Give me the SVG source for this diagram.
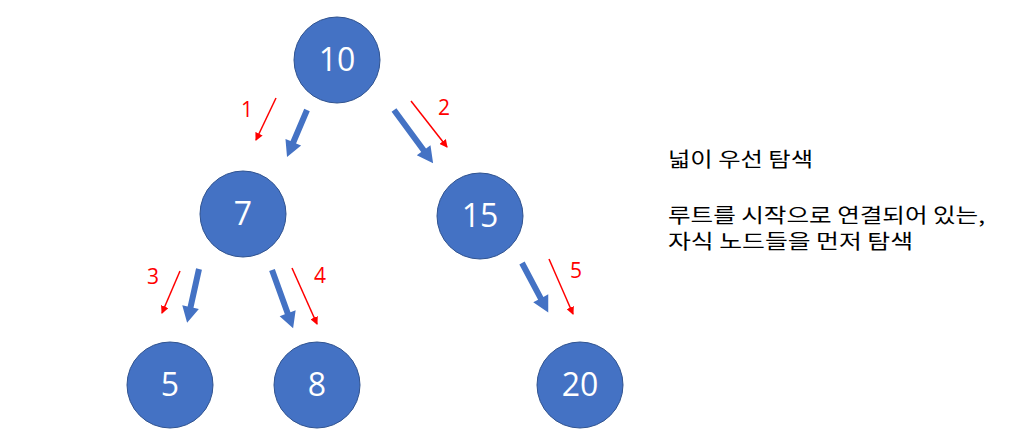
<svg xmlns="http://www.w3.org/2000/svg" width="1025" height="437" viewBox="0 0 1025 437">
<style>
.node circle{fill:#4472C4;stroke:#2F528F;stroke-width:1}
.node text{fill:#fff;font-family:"Segoe UI","Open Sans","Liberation Sans",sans-serif;font-size:32px;text-anchor:middle}
.blk{fill:#4472C4}
.red{stroke:#FF0000;stroke-width:1.5;fill:none;marker-end:url(#rh)}
.lbl{fill:#FF0000;font-family:"Segoe UI","Open Sans","Liberation Sans",sans-serif;font-size:21px;text-anchor:middle}
.desc{fill:#000;font-family:"Noto Sans CJK KR","Noto Sans",sans-serif;font-size:20px}
</style>
<defs>
<marker id="rh" markerWidth="8" markerHeight="8" refX="7" refY="4" orient="auto" markerUnits="userSpaceOnUse">
<path d="M0,0 L8,4 L0,8 Z" fill="#FF0000"/>
</marker>
</defs>
<rect width="1025" height="437" fill="#fff"/>
<g id="connectors">
<path class="blk" transform="translate(307,110) rotate(113.05)" d="M0,-3 L35,-3 L35,-8.5 L51,0 L35,8.5 L35,3 L0,3 Z"/>
<path class="blk" transform="translate(394,110) rotate(53.65)" d="M0,-3 L50,-3 L50,-8.5 L66,0 L50,8.5 L50,3 L0,3 Z"/>
<path class="blk" transform="translate(199,269) rotate(102.5)" d="M0,-3 L39,-3 L39,-8.5 L55,0 L39,8.5 L39,3 L0,3 Z"/>
<path class="blk" transform="translate(272,270) rotate(70.1)" d="M0,-3 L46,-3 L46,-8.5 L62,0 L46,8.5 L46,3 L0,3 Z"/>
<path class="blk" transform="translate(522,263) rotate(62.05)" d="M0,-3 L40,-3 L40,-8.5 L56,0 L40,8.5 L40,3 L0,3 Z"/>
<line class="red" x1="276" y1="98" x2="256" y2="140"/>
<line class="red" x1="411" y1="101" x2="447" y2="147"/>
<line class="red" x1="180" y1="271" x2="162" y2="313"/>
<line class="red" x1="292" y1="268" x2="317" y2="324"/>
<line class="red" x1="549" y1="259" x2="573" y2="314"/>
<text class="lbl" x="247" y="117">1</text>
<text class="lbl" x="444" y="115">2</text>
<text class="lbl" x="153" y="284">3</text>
<text class="lbl" x="320" y="283">4</text>
<text class="lbl" x="576" y="278">5</text>
</g>
<g id="n10" class="node"><circle cx="337" cy="60" r="43"/><text x="337" y="71">10</text></g>
<g id="n7" class="node"><circle cx="243" cy="214" r="43"/><text x="243" y="225">7</text></g>
<g id="n15" class="node"><circle cx="480" cy="216" r="43"/><text x="480" y="227">15</text></g>
<g id="n5" class="node"><circle cx="170" cy="385" r="43"/><text x="170" y="396">5</text></g>
<g id="n8" class="node"><circle cx="317" cy="385" r="43"/><text x="317" y="396">8</text></g>
<g id="n20" class="node"><circle cx="580" cy="385" r="43"/><text x="580" y="396">20</text></g>
<g id="desc">
<text class="desc" x="668" y="167" textLength="145" lengthAdjust="spacingAndGlyphs">넓이 우선 탐색</text>
<text class="desc" x="668" y="223" textLength="317" lengthAdjust="spacingAndGlyphs">루트를 시작으로 연결되어 있는,</text>
<text class="desc" x="668" y="249" textLength="245" lengthAdjust="spacingAndGlyphs">자식 노드들을 먼저 탐색</text>
</g>
</svg>
